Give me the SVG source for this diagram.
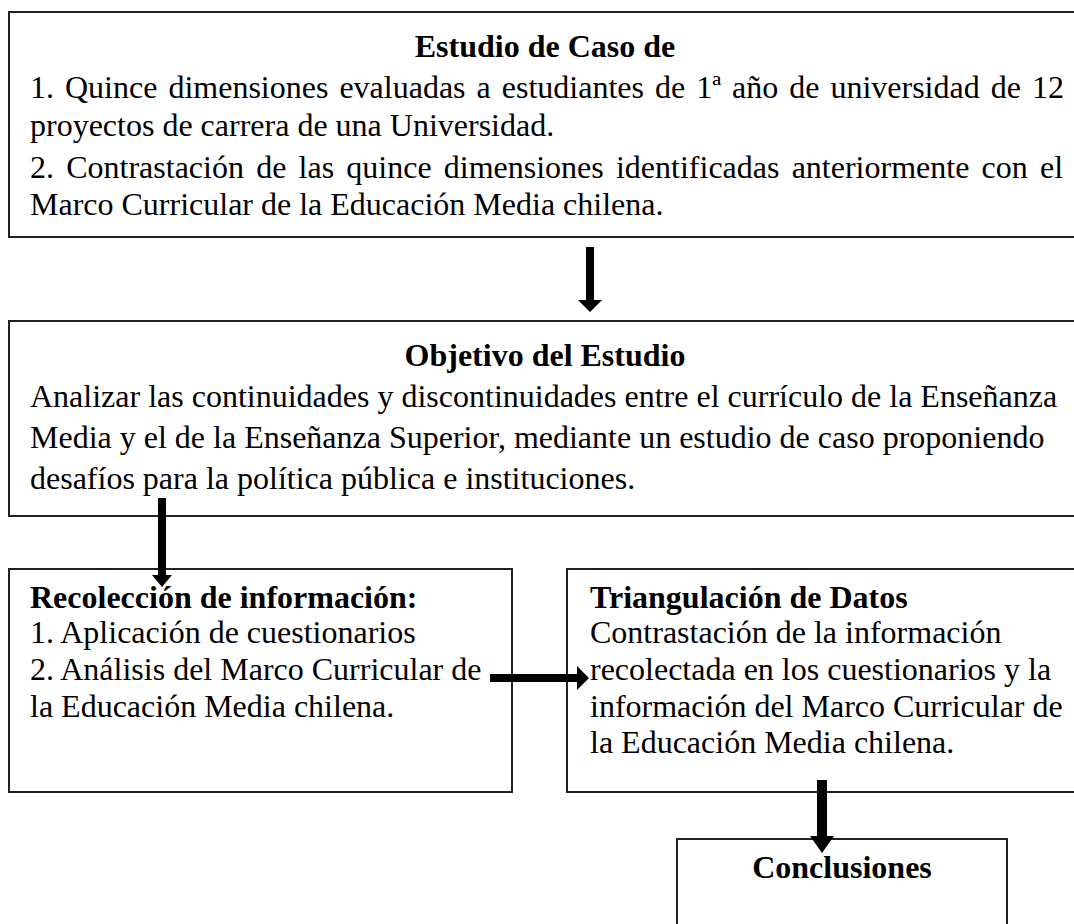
<svg xmlns="http://www.w3.org/2000/svg" width="1074" height="924" viewBox="0 0 1074 924">
<style>
.box{fill:#fff;stroke:#222;stroke-width:2}
.t{font-family:"Liberation Serif","Times New Roman",serif;font-size:32px;fill:#000}
.b{font-weight:bold}
.c{text-anchor:middle}
.arr{fill:#000}
</style>
<rect width="1074" height="924" fill="#fff"/>
<g id="node-estudio">
<rect class="box" x="9" y="12" width="1080" height="225"/>
<text class="t b c" x="545" y="57">Estudio de Caso de</text>
<text class="t" x="30" y="98" word-spacing="3">1. Quince dimensiones evaluadas a estudiantes de 1ª año de universidad de 12</text>
<text class="t" x="30" y="136">proyectos de carrera de una Universidad.</text>
<text class="t" x="30" y="178" word-spacing="4.2">2. Contrastación de las quince dimensiones identificadas anteriormente con el</text>
<text class="t" x="30" y="215">Marco Curricular de la Educación Media chilena.</text>
</g>
<g id="node-objetivo">
<rect class="box" x="9" y="321" width="1080" height="195"/>
<text class="t b c" x="545" y="366">Objetivo del Estudio</text>
<text class="t" x="30" y="407">Analizar las continuidades y discontinuidades entre el currículo de la Enseñanza</text>
<text class="t" x="30" y="448">Media y el de la Enseñanza Superior, mediante un estudio de caso proponiendo</text>
<text class="t" x="30" y="489">desafíos para la política pública e instituciones.</text>
</g>
<g id="node-recoleccion">
<rect class="box" x="9" y="569" width="503" height="223"/>
<text class="t b" x="30" y="608">Recolección de información:</text>
<text class="t" x="30" y="643">1. Aplicación de cuestionarios</text>
<text class="t" x="30" y="680">2. Análisis del Marco Curricular de</text>
<text class="t" x="30" y="717">la Educación Media chilena.</text>
</g>
<g id="node-triangulacion">
<rect class="box" x="567" y="569" width="520" height="223"/>
<text class="t b" x="590" y="608">Triangulación de Datos</text>
<text class="t" x="590" y="643">Contrastación de la información</text>
<text class="t" x="590" y="680">recolectada en los cuestionarios y la</text>
<text class="t" x="590" y="717">información del Marco Curricular de</text>
<text class="t" x="590" y="753">la Educación Media chilena.</text>
</g>
<g id="node-conclusiones">
<rect class="box" x="677" y="839" width="330" height="100"/>
<text class="t b c" x="842" y="878">Conclusiones</text>
</g>
<g id="connectors">
<polygon class="arr" points="586,247 594,247 594,300 602,300 590,312 578,300 586,300"/>
<polygon class="arr" points="158,498 166,498 166,575 172,575 162,587 152,575 158,575"/>
<polygon class="arr" points="490,674 577,674 577,666 589,678 577,690 577,682 490,682"/>
<polygon class="arr" points="817,780 827,780 827,836 834,836 822,853 810,836 817,836"/>
</g>
</svg>
